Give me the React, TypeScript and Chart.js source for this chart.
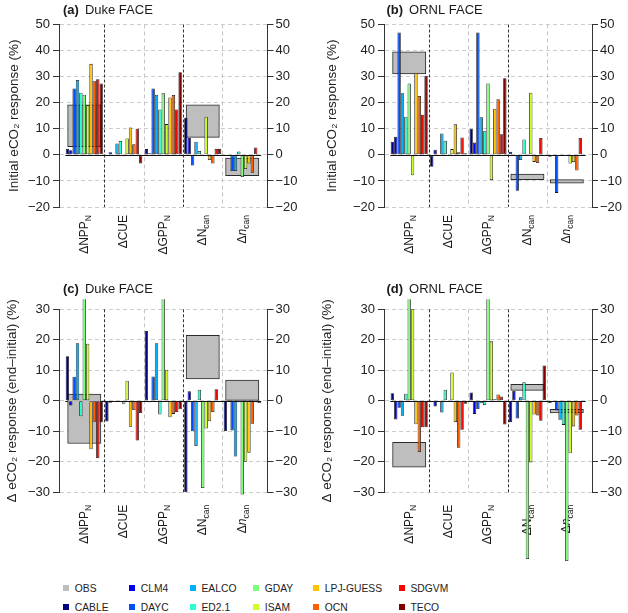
import React, { useEffect, useRef } from 'react';
import { Chart, registerables } from 'chart.js';

Chart.register(...registerables);

const FONT = '"Liberation Sans", Arial, Helvetica, sans-serif';

// ---------- data ----------
const MODELS = ['CABLE', 'CLM4', 'DAYC', 'EALCO', 'ED2.1', 'GDAY', 'ISAM', 'LPJ-GUESS', 'OCN', 'SDGVM', 'TECO'];
const MODEL_COLORS = ['#000080', '#0000f1', '#004cff', '#00b0ff', '#29ffce', '#7dff7a', '#ceff29', '#ffc400', '#ff5e00', '#f10800', '#800000'];
const OBS_LABEL = 'OBS';
const OBS_COLOR = '#bebebe';

const CATEGORIES = ['ΔNPP_N', 'ΔCUE', 'ΔGPP_N', 'ΔN_can', 'Δn_can'];

const TICKS_INITIAL = [-20, -10, 0, 10, 20, 30, 40, 50];
const TICKS_CHANGE = [-30, -20, -10, 0, 10, 20, 30];

// rows: models (MODELS order); columns: CATEGORIES order
const DUKE_INITIAL = [
  [2.3, 0, 2.2, 14.2, 0],
  [1.8, 1.0, 0.6, 6.5, 0],
  [25.5, 0, 25.5, -4.1, -6.2],
  [28.7, 4.4, 23.1, 5.0, -6.2],
  [23.8, 5.3, 17.4, 1.5, 1.3],
  [23.1, -0.5, 23.6, 0, -8.5],
  [19.0, 6.3, 11.8, 14.6, -5.4],
  [34.9, 10.5, 22.0, -2.0, -3.3],
  [28.2, 4.1, 23.0, -3.3, -6.9],
  [29.0, 10.0, 17.4, 2.3, 2.8],
  [27.4, -3.3, 31.7, 2.3, 0],
];
const DUKE_INITIAL_OBS = [[3.1, 19.2], null, null, [6.7, 19.2], [-8.0, -1.2]];

const ORNL_INITIAL = [
  [5.0, -4.6, 10.0, 1.2, -0.7],
  [6.9, 2.0, 4.7, 0, 0],
  [46.9, 0, 46.9, -13.8, -14.6],
  [23.6, 8.2, 14.4, -2.0, -0.3],
  [14.6, 5.4, 9.1, 5.9, 0],
  [27.4, 0, 27.4, 0, 0],
  [-7.8, 2.2, -9.7, 23.8, -3.3],
  [31.5, 11.7, 17.7, -2.7, -2.8],
  [22.6, 1.0, 21.3, -3.1, -6.0],
  [15.4, 6.7, 7.9, 6.5, 6.5],
  [30.3, 0.6, 29.4, 0, 0],
];
const ORNL_INITIAL_OBS = [[31.0, 39.5], null, null, [-9.5, -7.4], [-10.9, -9.5]];

const DUKE_CHANGE = [
  [14.6, -6.8, 22.9, -30.0, -9.9],
  [-1.5, -0.6, -0.5, 3.1, 0],
  [7.9, -0.3, 8.0, -10.0, -9.7],
  [18.9, -0.3, 18.9, -14.8, -18.3],
  [-5.1, -0.3, -4.5, 3.6, -0.5],
  [42.0, -1.0, 40.0, -28.6, -30.7],
  [18.7, 6.6, 10.2, -9.1, -20.0],
  [-15.9, -8.5, -5.4, -6.7, -17.0],
  [-6.9, -3.0, -4.3, -3.7, -7.5],
  [-18.8, -13.0, -3.7, 3.8, -0.5],
  [-7.0, -4.0, -2.8, 0, -0.8],
];
const DUKE_CHANGE_OBS = [[-14.0, 2.2], null, null, [7.2, 21.5], [0, 6.8]];

const ORNL_CHANGE = [
  [2.5, 0, 2.7, -7.0, -0.7],
  [-6.1, -1.9, -4.3, 3.2, 0],
  [-2.3, 0, -2.7, -5.8, -3.2],
  [-4.9, -3.8, -0.8, 1.2, -6.2],
  [2.3, 3.6, -1.4, 6.1, -7.9],
  [45.0, 0, 45.0, -51.9, -52.5],
  [30.0, 9.3, 19.5, -20.2, -17.2],
  [-7.7, -7.0, 0.5, -4.5, -8.4],
  [-16.8, -15.4, 2.1, -4.8, -4.8],
  [-8.7, -9.5, 1.4, -6.5, -9.5],
  [-8.7, -1.0, -7.8, 11.6, 0],
];
const ORNL_CHANGE_OBS = [[-21.8, -13.6], null, null, [3.4, 5.4], [-4.0, -2.8]];

const PANEL_TAGS = ['(a)', '(b)', '(c)', '(d)'];
const PANEL_SITES = ['Duke FACE', 'ORNL FACE', 'Duke FACE', 'ORNL FACE'];
const Y_TITLE_INITIAL = 'Initial eCO₂ response (%)';
const Y_TITLE_CHANGE = 'Δ eCO₂ response (end–initial) (%)';

// ---------- layout ----------
const X_MIN = -0.64;
const X_MAX = 4.64;

type Layout = {
  left: number; top: number; width: number; height: number;
  axisLeft: number; axisRight: number; plotTop: number; plotBottom: number;
  titleX: number; titleY: number; yTitlePad: number; labelGap: number;
};

const LAYOUTS: Layout[] = [
  { left: 0, top: 0, width: 314, height: 266, axisLeft: 59, axisRight: 267.5, plotTop: 24.5, plotBottom: 207, titleX: 63, titleY: 10, yTitlePad: 6, labelGap: 8 },
  { left: 314, top: 0, width: 314, height: 266, axisLeft: 384, axisRight: 592, plotTop: 24.5, plotBottom: 207, titleX: 386.5, titleY: 10, yTitlePad: 10, labelGap: 8 },
  { left: 0, top: 250, width: 314, height: 322, axisLeft: 59, axisRight: 267.5, plotTop: 309.3, plotBottom: 492.3, titleX: 63, titleY: 39.3, yTitlePad: 4, labelGap: 12.5 },
  { left: 314, top: 250, width: 314, height: 322, axisLeft: 384, axisRight: 592, plotTop: 309.3, plotBottom: 492.3, titleX: 386.5, titleY: 39.3, yTitlePad: 5, labelGap: 12.5 },
];

type PanelSpec = {
  idx: number;
  values: number[][];
  obs: (number[] | null)[];
  ticks: number[];
  yTitle: string;
};

const PANELS: PanelSpec[] = [
  { idx: 0, values: DUKE_INITIAL, obs: DUKE_INITIAL_OBS, ticks: TICKS_INITIAL, yTitle: Y_TITLE_INITIAL },
  { idx: 1, values: ORNL_INITIAL, obs: ORNL_INITIAL_OBS, ticks: TICKS_INITIAL, yTitle: Y_TITLE_INITIAL },
  { idx: 2, values: DUKE_CHANGE, obs: DUKE_CHANGE_OBS, ticks: TICKS_CHANGE, yTitle: Y_TITLE_CHANGE },
  { idx: 3, values: ORNL_CHANGE, obs: ORNL_CHANGE_OBS, ticks: TICKS_CHANGE, yTitle: Y_TITLE_CHANGE },
];

type Part = { t: string; sub?: boolean; italic?: boolean };
function labelParts(label: string): Part[] {
  const [base, sub] = label.split('_');
  const parts: Part[] = base === 'Δn' ? [{ t: 'Δ' }, { t: 'n', italic: true }] : [{ t: base }];
  if (sub) parts.push({ t: sub, sub: true });
  return parts;
}

const fmtTick = (v: number) => (v < 0 ? '−' + Math.abs(v) : String(v));

function PanelChart({ spec }: { spec: PanelSpec }) {
  const ref = useRef<HTMLCanvasElement>(null);
  const L = LAYOUTS[spec.idx];

  useEffect(() => {
    const canvas = ref.current;
    if (!canvas) return;
    const clip = { left: false, right: false, top: 10, bottom: false };

    const datasets: any[] = MODELS.map((m, i) => ({
      label: m,
      data: CATEGORIES.map((_, c) => ({ x: c, y: spec.values[i][c] })),
      backgroundColor: MODEL_COLORS[i],
      borderColor: '#1a1a1a',
      borderWidth: 0.8,
      borderSkipped: false,
      categoryPercentage: 0.94,
      barPercentage: 1,
      order: 0,
      clip,
    }));
    datasets.push({
      label: OBS_LABEL,
      data: spec.obs
        .map((v, c) => (v ? { x: c, y: [v[0], v[1]] } : null))
        .filter((d) => d !== null),
      backgroundColor: OBS_COLOR,
      borderColor: '#2a2a2a',
      borderWidth: 1,
      borderSkipped: false,
      grouped: false,
      categoryPercentage: 1,
      barPercentage: 1,
      maxBarThickness: 33.3,
      order: 1,
      clip,
    });

    const decor = {
      id: 'decor',
      beforeDatasetsDraw(chart: any) {
        const { ctx, chartArea } = chart;
        const xs = chart.scales.x;
        const ys = chart.scales.y;
        ctx.save();
        // group separators
        for (let k = 0; k < CATEGORIES.length - 1; k++) {
          const x = Math.round(xs.getPixelForValue(k + 0.5)) + 0.5;
          const dark = k % 2 === 0;
          ctx.beginPath();
          ctx.setLineDash(dark ? [3, 2] : [4, 3]);
          ctx.strokeStyle = dark ? '#333' : '#c4c4c4';
          ctx.lineWidth = 1;
          ctx.moveTo(x, chartArea.top);
          ctx.lineTo(x, chartArea.bottom);
          ctx.stroke();
        }
        // zero line
        ctx.setLineDash([]);
        const y0 = Math.round(ys.getPixelForValue(0)) + 0.5;
        ctx.beginPath();
        ctx.strokeStyle = '#111';
        ctx.lineWidth = 1;
        ctx.moveTo(xs.getPixelForValue(-0.48), y0);
        ctx.lineTo(xs.getPixelForValue(CATEGORIES.length - 1 + 0.48), y0);
        ctx.stroke();
        // category labels (rotated)
        ctx.fillStyle = '#1a1a1a';
        CATEGORIES.forEach((lab, c) => {
          const parts = labelParts(lab);
          const fontOf = (p: Part) =>
            `${p.italic ? 'italic ' : ''}${p.sub ? 8.5 : 12}px ${FONT}`;
          const widths = parts.map((p) => {
            ctx.font = fontOf(p);
            return ctx.measureText(p.t).width;
          });
          const total = widths.reduce((a, b) => a + b, 0);
          ctx.save();
          ctx.translate(xs.getPixelForValue(c), chartArea.bottom + L.labelGap);
          ctx.rotate(-Math.PI / 2);
          ctx.textAlign = 'left';
          ctx.textBaseline = 'middle';
          let x = -total;
          parts.forEach((p, i) => {
            ctx.font = fontOf(p);
            ctx.fillText(p.t, x, p.sub ? 4 : 0);
            x += widths[i];
          });
          ctx.restore();
        });
        // panel title
        ctx.textAlign = 'left';
        ctx.textBaseline = 'middle';
        ctx.font = `bold 13px ${FONT}`;
        const tag = PANEL_TAGS[spec.idx];
        ctx.fillText(tag, L.titleX - L.left, L.titleY);
        const w = ctx.measureText(tag).width;
        ctx.font = `13px ${FONT}`;
        ctx.fillText(PANEL_SITES[spec.idx], L.titleX - L.left + w + 6, L.titleY);
        ctx.restore();
      },
    };

    const yMin = spec.ticks[0];
    const yMax = spec.ticks[spec.ticks.length - 1];
    const step = spec.ticks[1] - spec.ticks[0];

    const chart = new Chart(canvas, {
      type: 'bar',
      data: { datasets },
      plugins: [decor],
      options: {
        responsive: false,
        animation: false,
        devicePixelRatio: 1,
        layout: {
          padding: {
            top: L.plotTop - L.top,
            bottom: L.top + L.height - L.plotBottom,
            left: 0,
            right: 0,
          },
        },
        plugins: {
          legend: { display: false },
          tooltip: { enabled: false },
          title: { display: false },
        },
        scales: {
          x: {
            type: 'linear',
            display: false,
            min: X_MIN,
            max: X_MAX,
            offset: false,
            ticks: { stepSize: 1, includeBounds: false },
          },
          y: {
            type: 'linear',
            position: 'left',
            min: yMin,
            max: yMax,
            afterFit: (s: any) => {
              s.width = L.axisLeft - L.left;
            },
            ticks: {
              stepSize: step,
              font: { family: FONT, size: 13 },
              color: '#222',
              padding: 3,
              callback: (v: any) => fmtTick(Number(v)),
            },
            grid: {
              color: '#cdcdcd',
              lineWidth: 1,
              drawTicks: true,
              tickLength: 6,
              tickColor: '#333',
            },
            border: { display: true, color: '#333', width: 1, dash: [4, 3] },
            title: {
              display: true,
              text: spec.yTitle,
              font: { family: FONT, size: 13.5 },
              color: '#222',
              padding: { top: L.yTitlePad, bottom: 0 },
            },
          },
          y2: {
            type: 'linear',
            position: 'right',
            min: yMin,
            max: yMax,
            afterFit: (s: any) => {
              s.width = L.left + L.width - L.axisRight;
            },
            ticks: {
              stepSize: step,
              font: { family: FONT, size: 13 },
              color: '#222',
              padding: 2,
              callback: (v: any) => fmtTick(Number(v)),
            },
            grid: {
              drawOnChartArea: false,
              drawTicks: true,
              tickLength: 6,
              tickColor: '#333',
            },
            border: { display: true, color: '#333', width: 1 },
          },
        },
      } as any,
    });
    return () => chart.destroy();
  }, [spec]);

  return (
    <canvas
      ref={ref}
      width={L.width}
      height={L.height}
      style={{ position: 'absolute', left: L.left, top: L.top, width: L.width, height: L.height }}
    />
  );
}

const LEGEND_ITEMS = [OBS_LABEL, ...MODELS];
const LEGEND_COLORS = [OBS_COLOR, ...MODEL_COLORS];
const LEGEND_COL_X = [63.3, 129.3, 190, 253.3, 313.3, 399];
const LEGEND_ROW_Y = [588, 607];

function Legend() {
  return (
    <>
      {LEGEND_ITEMS.map((name, i) => {
        const col = Math.floor(i / 2);
        const row = i % 2;
        const x = LEGEND_COL_X[col];
        const y = LEGEND_ROW_Y[row];
        return (
          <div
            key={name}
            style={{
              position: 'absolute',
              left: x,
              top: y - 8,
              height: 16,
              display: 'flex',
              alignItems: 'center',
              whiteSpace: 'nowrap',
              fontSize: 10.3,
              color: '#222',
            }}
          >
            <span style={{ display: 'inline-block', width: 6, height: 6, background: LEGEND_COLORS[i], marginRight: 5.5 }} />
            <span>{name}</span>
          </div>
        );
      })}
    </>
  );
}

export default function App() {
  return (
    <div
      style={{
        position: 'absolute',
        left: 0,
        top: 0,
        width: 628,
        height: 613,
        background: '#fff',
        fontFamily: FONT,
        overflow: 'hidden',
      }}
    >
      {PANELS.map((p) => (
        <PanelChart key={p.idx} spec={p} />
      ))}
      <Legend />
    </div>
  );
}
